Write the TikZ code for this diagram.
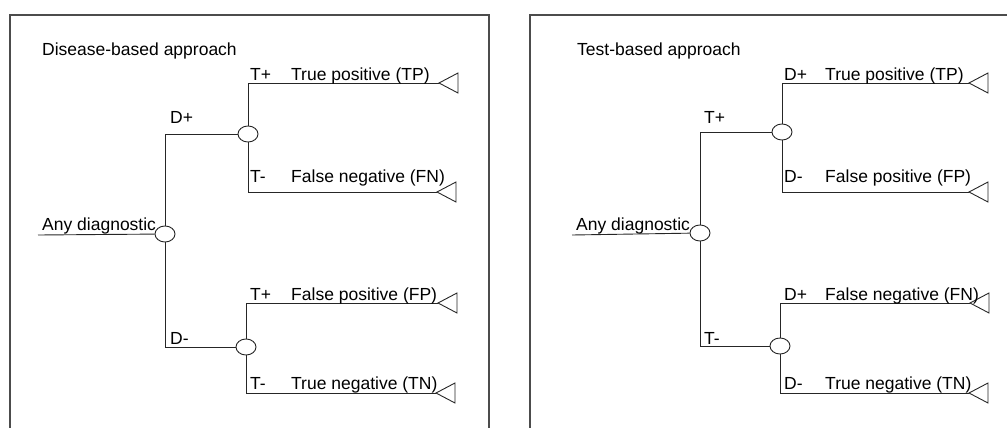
\documentclass[tikz,border=0pt]{standalone}
\usepackage{fontspec}
\setmainfont{Liberation Sans}
\usetikzlibrary{shapes.geometric}

\begin{document}
\begin{tikzpicture}[x=1pt, y=-1pt,
    chance/.style={ellipse, draw=black!85, fill=white, line width=0.9pt, minimum width=20pt, minimum height=16pt, inner sep=0pt},
    branch/.style={draw=black!85, line width=0.9pt},
    lbl/.style={anchor=base west, inner sep=0pt, font=\fontsize{17.5}{20}\selectfont}]
    \useasboundingbox (0,0) rectangle (1007,428);
    \clip (0,0) rectangle (1007,428);
    % Marcos de los dos enfoques
    \draw[black!70, line width=1.2pt] (10,15) rectangle (489,440);
    \draw[black!70, line width=1.2pt] (530,15) rectangle (1030,440);
    % Enfoque basado en la enfermedad
    \begin{scope}
    \node[lbl] (ttl) at (42,56) {Disease-based approach};
    \coordinate (start) at (38,235);
    \node[chance] (root) at (165,234) {};
    \node[chance] (cup) at (248,134) {};
    \node[chance] (clo) at (246,347) {};
    \coordinate (tp) at (439,83);
    \coordinate (fn) at (437,192);
    \coordinate (fp) at (438,303);
    \coordinate (tn) at (436,393);
    \draw[branch] (start) -- (root);
    \draw[branch] (root) |- (cup);
    \draw[branch] (root) |- (clo);
    \draw[branch] (cup) |- (tp);
    \draw[branch] (cup) |- (fn);
    \draw[branch] (clo) |- (fp);
    \draw[branch] (clo) |- (tn);
    \foreach \n in {tp,fn,fp,tn}
        \draw[branch] (\n) -- ++(19,-10) -- ++(0,20) -- cycle;
    % Etiquetas de las ramas
    \node[lbl, anchor=south west, inner sep=1pt, xshift=3pt] (any) at (start) {Any diagnostic};
    \node[lbl] (dpos) at (170,123) {D+};
    \node[lbl] (dneg) at (170,344) {D-};
    \node[lbl] (tpos1) at (250,81) {T+};
    \node[lbl] (tneg1) at (250,182) {T-};
    \node[lbl] (tpos2) at (250,300) {T+};
    \node[lbl] (tneg2) at (250,389) {T-};
    \node[lbl] (tpl) at (291,81) {True positive (TP)};
    \node[lbl] (fnl) at (291,182) {False negative (FN)};
    \node[lbl] (fpl) at (291,300) {False positive (FP)};
    \node[lbl] (tnl) at (291,389) {True negative (TN)};
    \end{scope}
    % Enfoque basado en la prueba
    \begin{scope}[xshift=534pt]
    \node[lbl] (ttl) at (43,56) {Test-based approach};
    \coordinate (start) at (38,235);
    \node[chance] (root) at (166,233) {};
    \node[chance] (cup) at (248,132) {};
    \node[chance] (clo) at (246,346) {};
    \coordinate (tp) at (435,83);
    \coordinate (fp) at (435,192);
    \coordinate (fn) at (436,303);
    \coordinate (tn) at (435,393);
    \draw[branch] (start) -- (root);
    \draw[branch] (root) |- (cup);
    \draw[branch] (root) |- (clo);
    \draw[branch] (cup) |- (tp);
    \draw[branch] (cup) |- (fp);
    \draw[branch] (clo) |- (fn);
    \draw[branch] (clo) |- (tn);
    \foreach \n in {tp,fp,fn,tn}
        \draw[branch] (\n) -- ++(19,-10) -- ++(0,20) -- cycle;
    % Etiquetas de las ramas
    \node[lbl, anchor=south west, inner sep=1pt, xshift=3pt] (any) at (start) {Any diagnostic};
    \node[lbl] (tpos) at (170,123) {T+};
    \node[lbl] (tneg) at (170,344) {T-};
    \node[lbl] (dpos1) at (250,81) {D+};
    \node[lbl] (dneg1) at (250,182) {D-};
    \node[lbl] (dpos2) at (250,300) {D+};
    \node[lbl] (dneg2) at (250,389) {D-};
    \node[lbl] (tpl) at (291,81) {True positive (TP)};
    \node[lbl] (fpl) at (291,182) {False positive (FP)};
    \node[lbl] (fnl) at (291,300) {False negative (FN)};
    \node[lbl] (tnl) at (291,389) {True negative (TN)};
    \end{scope}
\end{tikzpicture}
\end{document}
